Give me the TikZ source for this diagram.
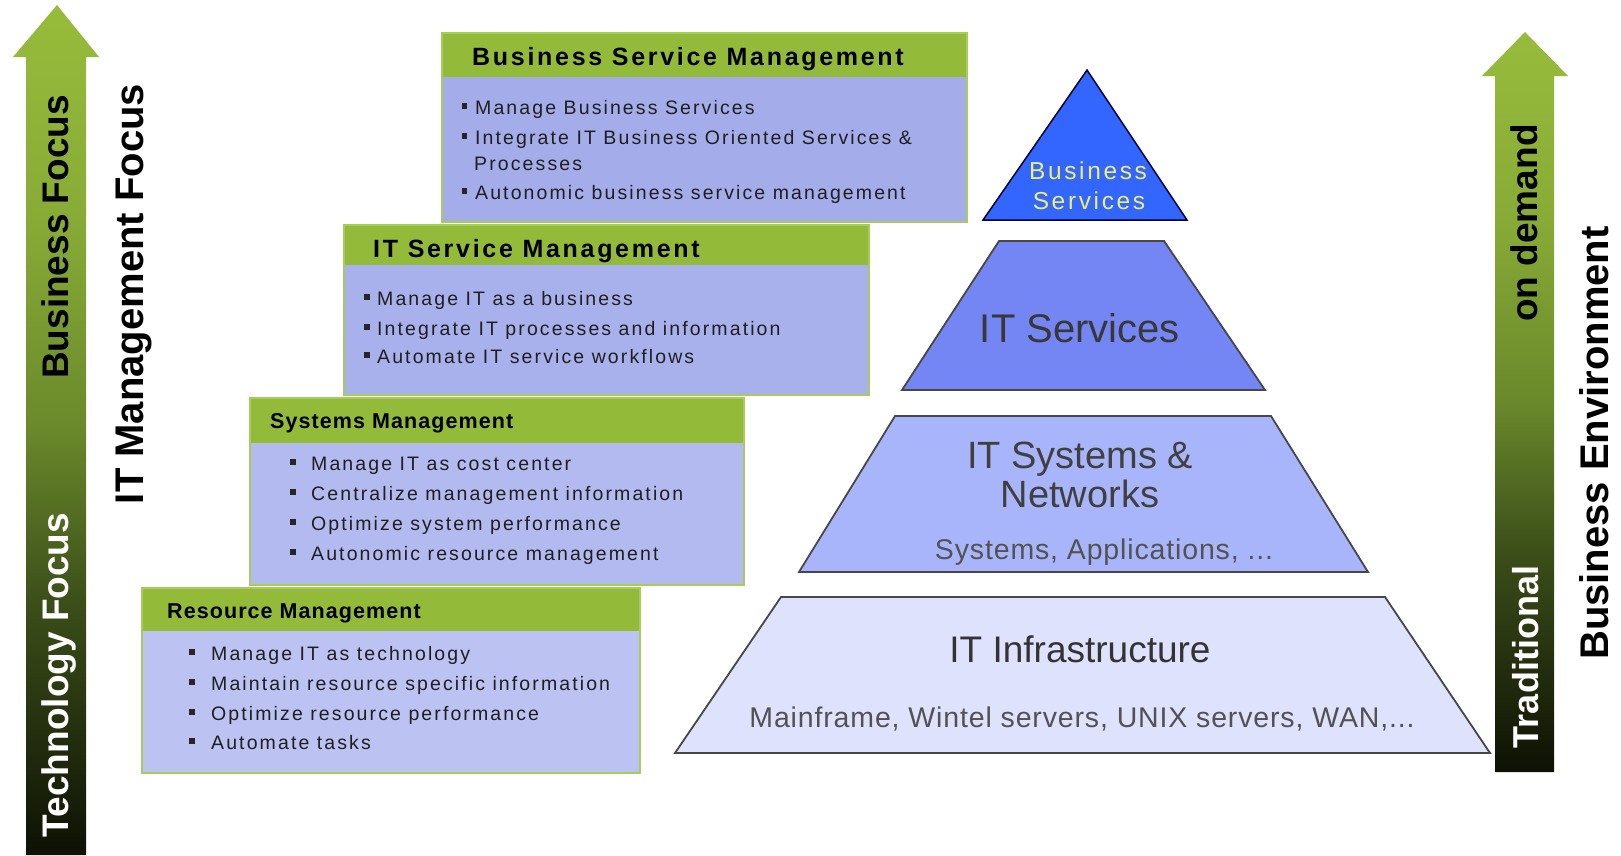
\documentclass[tikz,border=0pt]{standalone}
\usepackage{fontspec}
\setmainfont{Liberation Sans}
\newfontfamily\spA[LetterSpace=10.8]{Liberation Sans}
\newfontfamily\spB[LetterSpace=5]{Liberation Sans}
\newfontfamily\spC[LetterSpace=3]{Liberation Sans}
\definecolor{hdrgreen}{HTML}{94BA3A}
\definecolor{boxline}{HTML}{A8CC5C}
\definecolor{bodyA}{HTML}{A4ACEA}
\definecolor{bodyB}{HTML}{A9B1EC}
\definecolor{bodyC}{HTML}{B3BAF0}
\definecolor{bodyD}{HTML}{BCC2F2}
\definecolor{shA}{HTML}{0E1104}
\definecolor{shB}{HTML}{3C4F19}
\definecolor{shC}{HTML}{6A892B}
\definecolor{shD}{HTML}{88AB36}
\definecolor{shE}{HTML}{97BC3B}
\definecolor{triblue}{HTML}{3366FF}
\definecolor{itsblue}{HTML}{7386F4}
\definecolor{sysblue}{HTML}{A9B5FA}
\definecolor{infblue}{HTML}{DEE2FC}
\definecolor{yell}{HTML}{EEEE70}
\definecolor{pyrline}{HTML}{474747}
\pgfdeclareverticalshading{arrowshade}{100bp}{color(0bp)=(shA); color(25bp)=(shA); color(40bp)=(shB); color(50bp)=(shC); color(62.5bp)=(shD); color(75bp)=(shE); color(100bp)=(shE)}
\newcommand{\bsq}[2]{\fill[black!85] (#1-2.75,#2-11) rectangle (#1+2.75,#2-5.5);}
\begin{document}
\begin{tikzpicture}[x=1pt,y=-1pt,
  hdr/.style={anchor=base west, inner sep=0pt, font=\spA\bfseries\fontsize{25}{30}\selectfont},
  hdrs/.style={anchor=base west, inner sep=0pt, font=\spB\bfseries\fontsize{21.5}{26}\selectfont},
  bodytxt/.style={anchor=base west, inner sep=0pt, text=black!88, font=\spA\fontsize{19.5}{24}\selectfont},
  rot/.style={rotate=90, anchor=base, inner sep=0pt},
  pyrtxt/.style={anchor=base, inner sep=0pt},
  pyrshape/.style={draw=pyrline, line width=1.8pt, line join=miter}]
\useasboundingbox (0,0) rectangle (1621,855);
\fill[white] (0,0) rectangle (1621,855);

% left arrow
\shade[shading=arrowshade] (13,57) -- (57,5) -- (99,57) -- (86,57) -- (86,855) -- (26,855) -- (26,57) -- cycle;
\node[rot, font=\bfseries\fontsize{37}{40}\selectfont] (bizfocus) at (68,237) {Business Focus};
\node[rot, text=white, font=\bfseries\fontsize{37}{40}\selectfont] (techfocus) at (68,675) {Technology Focus};
\node[rot, font=\bfseries\fontsize{40}{44}\selectfont] (itmf) at (143,294) {IT Management Focus};

% right arrow
\shade[shading=arrowshade] (1482,76) -- (1525,32) -- (1568,76) -- (1554,76) -- (1554,772) -- (1495,772) -- (1495,76) -- cycle;
\node[rot, font=\bfseries\fontsize{37}{40}\selectfont] (ondemand) at (1537,223) {on demand};
\node[rot, text=white, font=\bfseries\fontsize{36}{40}\selectfont] (trad) at (1538,657) {Traditional};
\node[rot, font=\bfseries\fontsize{40}{44}\selectfont] (bizenv) at (1608,443) {Business Environment};

% Business Service Management
\fill[hdrgreen] (442,33) rectangle (967,77);
\fill[bodyA] (442,77) rectangle (967,222);
\draw[boxline, line width=1.2pt] (442,33) rectangle (967,222);
\node[hdr] (bsmh) at (472,65) {Business Service Management};
\node[bodytxt] (bsm1) at (475,114) {Manage Business Services};
\node[bodytxt] (bsm2) at (475,144) {Integrate IT Business Oriented Services \&};
\node[bodytxt] (bsm3) at (474,170) {Processes};
\node[bodytxt] (bsm4) at (475,199) {Autonomic business service management};
\bsq{464.5}{114}\bsq{464.5}{144}\bsq{464.5}{199}

% IT Service Management
\fill[hdrgreen] (344,225) rectangle (869,265);
\fill[bodyB] (344,265) rectangle (869,395);
\draw[boxline, line width=1.2pt] (344,225) rectangle (869,395);
\node[hdr] (itsmh) at (373,257) {IT Service Management};
\node[bodytxt] (itsm1) at (377,305) {Manage IT as a business};
\node[bodytxt] (itsm2) at (377,335) {Integrate IT processes and information};
\node[bodytxt] (itsm3) at (377,363) {Automate IT service workflows};
\bsq{367}{305}\bsq{367}{335}\bsq{367}{363}

% Systems Management
\fill[hdrgreen] (250,398) rectangle (744,443);
\fill[bodyC] (250,443) rectangle (744,585);
\draw[boxline, line width=1.2pt] (250,398) rectangle (744,585);
\node[hdrs] (smh) at (270,428) {Systems Management};
\node[bodytxt] (sm1) at (311,470) {Manage IT as cost center};
\node[bodytxt] (sm2) at (311,500) {Centralize management information};
\node[bodytxt] (sm3) at (311,530) {Optimize system performance};
\node[bodytxt] (sm4) at (311,560) {Autonomic resource management};
\bsq{293}{470}\bsq{293}{500}\bsq{293}{530}\bsq{293}{560}

% Resource Management
\fill[hdrgreen] (142,588) rectangle (640,631);
\fill[bodyD] (142,631) rectangle (640,773);
\draw[boxline, line width=1.2pt] (142,588) rectangle (640,773);
\node[hdrs] (rmh) at (167,618) {Resource Management};
\node[bodytxt] (rm1) at (211,660) {Manage IT as technology};
\node[bodytxt] (rm2) at (211,690) {Maintain resource specific information};
\node[bodytxt] (rm3) at (211,720) {Optimize resource performance};
\node[bodytxt] (rm4) at (211,749) {Automate tasks};
\bsq{192}{660}\bsq{192}{690}\bsq{192}{720}\bsq{192}{749}

% pyramid
\filldraw[fill=triblue, draw=black!80!blue, line width=1.5pt] (1087,70) -- (1187,220) -- (983,220) -- cycle;
\filldraw[pyrshape, fill=itsblue] (999,241) -- (1164,241) -- (1265,390) -- (902,390) -- cycle;
\filldraw[pyrshape, fill=sysblue] (895,416) -- (1271,416) -- (1368,572) -- (799,572) -- cycle;
\filldraw[pyrshape, fill=infblue] (781,597) -- (1385,597) -- (1490,753) -- (675,753) -- cycle;

\node[pyrtxt, text=yell, font=\spA\fontsize{24.5}{28}\selectfont] (bs1) at (1088,179) {Business};
\node[pyrtxt, text=yell, font=\spA\fontsize{24.5}{28}\selectfont] (bs2) at (1089,209) {Services};
\node[pyrtxt, text=black!78, font=\fontsize{40}{44}\selectfont] (its) at (1080,342) {IT Services};
\node[pyrtxt, text=black!75, font=\fontsize{38}{42}\selectfont] (sys1) at (1080,468) {IT Systems \&};
\node[pyrtxt, text=black!75, font=\fontsize{38}{42}\selectfont] (sys2) at (1080,507) {Networks};
\node[pyrtxt, text=black!68, font=\spC\fontsize{28.5}{32}\selectfont] (sys3) at (1104,559) {Systems, Applications, ...};
\node[pyrtxt, text=black!80, font=\fontsize{37}{42}\selectfont] (inf1) at (1080,662) {IT Infrastructure};
\node[pyrtxt, text=black!68, font=\spC\fontsize{28.5}{32}\selectfont] (inf2) at (1082,727) {Mainframe, Wintel servers, UNIX servers, WAN,...};
\end{tikzpicture}
\end{document}
